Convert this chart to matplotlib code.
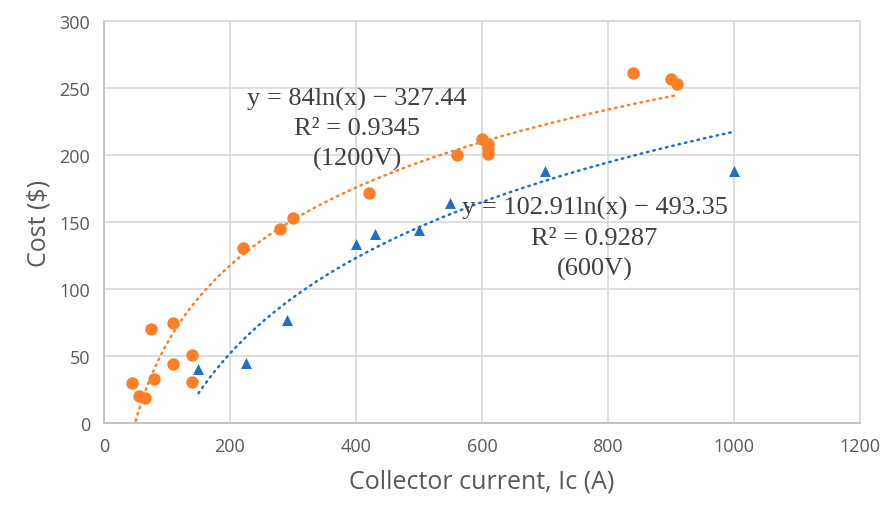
import numpy as np
import matplotlib
matplotlib.use("Agg")
import matplotlib.pyplot as plt

# 1200V devices (orange circles)
ic_1200 = [45, 55, 65, 75, 80, 110, 110, 140, 140, 220, 280, 300, 420, 560,
           600, 610, 610, 610, 840, 900, 910]
cost_1200 = [30, 20, 19, 70, 33, 75, 44, 51, 31, 131, 145, 153, 172, 200,
             212, 208, 205, 201, 261, 257, 253]

# 600V devices (blue triangles)
ic_600 = [150, 225, 290, 400, 430, 500, 550, 700, 1000]
cost_600 = [40, 45, 77, 134, 141, 144, 164, 188, 188]

# log trendline coefficients shown on chart
a_1200, b_1200 = 84.0, -327.44
a_600, b_600 = 102.91, -493.35

ORANGE = "#FF7F27"
BLUE = "#1F6FC7"
GRID = "#d9d9d9"
TXT = "#595959"

fig = plt.figure(figsize=(8.85, 5.06), dpi=100)
ax = fig.add_axes([0.1175, 0.162, 0.854, 0.794])

# trendlines
x1 = np.linspace(min(ic_1200), max(ic_1200), 400)
ax.plot(x1, a_1200 * np.log(x1) + b_1200, color=ORANGE, lw=1.8,
        linestyle=(0, (0.6, 2.0)), dash_capstyle="round", zorder=2)
x2 = np.linspace(min(ic_600), max(ic_600), 400)
ax.plot(x2, a_600 * np.log(x2) + b_600, color=BLUE, lw=1.8,
        linestyle=(0, (0.6, 2.0)), dash_capstyle="round", zorder=2)

ax.scatter(ic_1200, cost_1200, s=80, color=ORANGE, marker="o", zorder=3, linewidths=0)
ax.scatter(ic_600, cost_600, s=62, color=BLUE, marker="^", zorder=3, linewidths=0)

ax.set_xlim(0, 1200)
ax.set_ylim(0, 300)
ax.set_xticks(range(0, 1201, 200))
ax.set_yticks(range(0, 301, 50))
ax.grid(True, color=GRID, lw=1.2)
ax.set_axisbelow(True)
for s in ["top", "right"]:
    ax.spines[s].set_color(GRID)
    ax.spines[s].set_linewidth(1.2)
for s in ["left", "bottom"]:
    ax.spines[s].set_color("#bfbfbf")
    ax.spines[s].set_linewidth(1.3)
ax.tick_params(length=0, labelsize=13, colors=TXT, pad=10)
for lab in ax.get_xticklabels() + ax.get_yticklabels():
    lab.set_family("Open Sans")

ax.set_xlabel("Collector current, Ic (A)", fontsize=18, color=TXT,
              family="Open Sans", labelpad=10)
ax.set_ylabel("Cost ($)", fontsize=18, color=TXT, family="Open Sans", labelpad=6)

serif = dict(family="Liberation Serif", fontsize=19, color="#404040",
             ha="center", va="center", linespacing=1.45, zorder=4)
ax.text(402, 220, "y = 84ln(x) − 327.44\nR² = 0.9345\n(1200V)", **serif)
ax.text(779, 138, "y = 102.91ln(x) − 493.35\nR² = 0.9287\n(600V)", **serif)

fig.savefig("out.png", dpi=100)
